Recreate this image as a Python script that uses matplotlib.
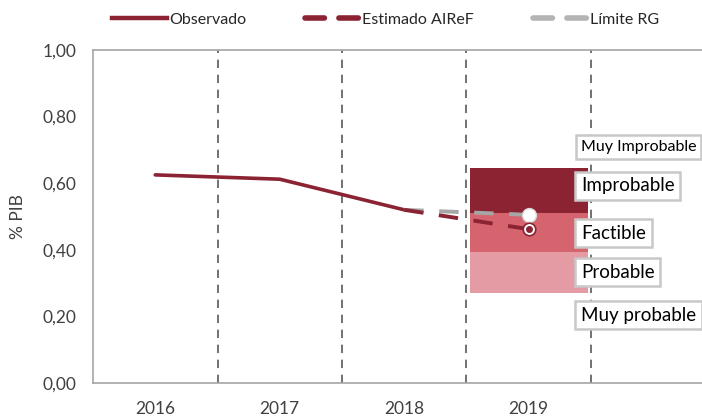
import matplotlib
matplotlib.use("Agg")
import matplotlib.pyplot as plt
from matplotlib.lines import Line2D
from matplotlib.ticker import FuncFormatter, FixedLocator

plt.rcParams['font.family'] = ['Lato', 'DejaVu Sans']

years = ['2016', '2017', '2018', '2019']
observado = [0.625, 0.612, 0.52]          # 2016-2018
estimado_airef = [0.52, 0.462]            # 2018-2019
limite_rg = [0.52, 0.505]                 # 2018-2019

band_names = ['Probable', 'Factible', 'Improbable']
band_bottoms = [0.27, 0.393, 0.51]
band_tops = [0.393, 0.51, 0.645]
band_colors = ['#E59BA4', '#D5646F', '#8B2332']

prob_labels = ['Muy Improbable', 'Improbable', 'Factible', 'Probable', 'Muy probable']
prob_label_y = [0.709, 0.592, 0.45, 0.333, 0.204]
prob_label_size = [11.5, 13.5, 13.5, 13.5, 13.5]

red = '#8B2332'
gray = '#A6A6A6'

fig = plt.figure(figsize=(7.02, 4.18), dpi=100)
ax = fig.add_axes([93 / 702, 35 / 418, 609 / 702, 333 / 418])

x = list(range(len(years)))

# probability bands for 2019
ax.bar([x[3]] * 3, [t - b for t, b in zip(band_tops, band_bottoms)],
       bottom=band_bottoms, width=0.95, color=band_colors, zorder=1)

# year separators
for xb in [0.5, 1.5, 2.5, 3.5]:
    ax.axvline(xb, color='#595959', lw=1.2, ls=(0, (5, 4)), zorder=0.5)

ax.plot(x[:3], observado, color=red, lw=2.6, solid_capstyle='round', zorder=3)
ax.plot(x[2:4], limite_rg, color=gray, lw=2.8, dashes=(5, 4), zorder=3)
ax.plot(x[2:4], estimado_airef, color=red, lw=2.8, dashes=(5, 4), zorder=3)

ax.plot(x[3], limite_rg[-1], 'o', ms=10, mfc='white', mec='#D9D9D9', mew=1, zorder=4)
ax.plot(x[3], estimado_airef[-1], 'o', ms=9, mfc='white', mec=red, mew=1.2, zorder=4)
ax.plot(x[3], estimado_airef[-1], 'o', ms=4, mfc=red, mec=red, zorder=5)

for lab, yy, fs in zip(prob_labels, prob_label_y, prob_label_size):
    ax.text(3.42, yy, lab, fontsize=fs, color='black', ha='left', va='center', zorder=6,
            bbox=dict(boxstyle='square,pad=0.3', fc='white', ec='#C8C8C8', lw=1.8))

ax.set_xlim(-0.5, -0.5 + 609 / 124.5)
ax.set_ylim(0, 1.0)
ax.xaxis.set_major_locator(FixedLocator(x))
ax.set_xticklabels(years)
ax.yaxis.set_major_locator(FixedLocator([0, 0.2, 0.4, 0.6, 0.8, 1.0]))
ax.yaxis.set_major_formatter(FuncFormatter(lambda v, p: f"{v:.2f}".replace('.', ',')))
ax.tick_params(axis='both', length=0, labelsize=12.5, colors='#404040')
ax.tick_params(axis='x', pad=13)
ax.tick_params(axis='y', pad=12)
ax.set_ylabel('% PIB', fontsize=12.5, color='#404040', labelpad=12)

for s in ['left', 'bottom', 'top']:
    ax.spines[s].set_color('#A6A6A6')
    ax.spines[s].set_linewidth(1.2)
ax.spines['right'].set_visible(False)

handles = [
    Line2D([], [], color=red, lw=3.2),
    Line2D([], [], color=red, lw=4, dashes=(3.5, 2.6), dash_capstyle='round'),
    Line2D([], [], color='#B4B4B4', lw=4, dashes=(3.5, 2.6), dash_capstyle='round'),
]
fig.legend(handles, ['Observado', 'Estimado AIReF', 'Límite RG'], loc='center left',
           bbox_to_anchor=(98 / 702, 1 - 20 / 418), ncol=3, frameon=False,
           fontsize=11.5, handlelength=3.4, handletextpad=0.15, columnspacing=3.7,
           labelcolor='#262626')

fig.savefig('out.png', dpi=100)
